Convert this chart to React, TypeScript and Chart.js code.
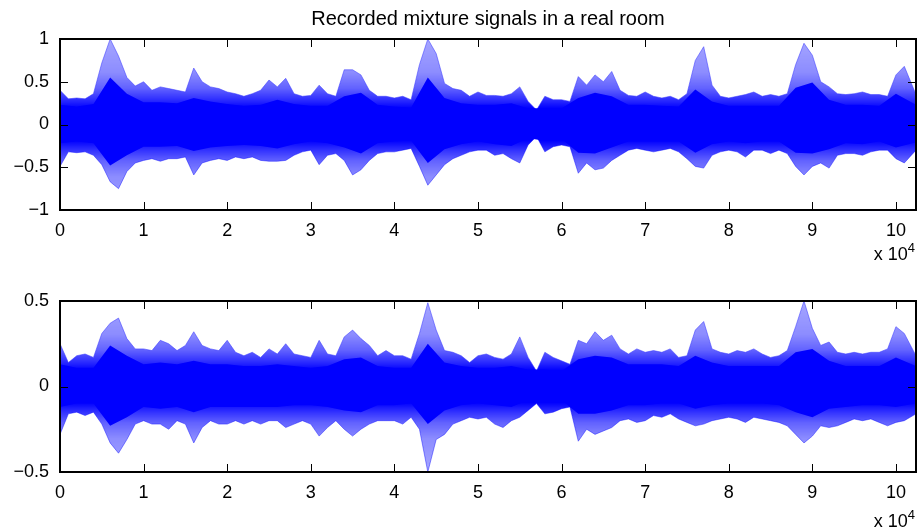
import { useEffect, useRef } from "react";
import { Chart, registerables } from "chart.js";

Chart.register(...registerables);

const FONT = '"Liberation Sans", Arial, Helvetica, sans-serif';

// sample positions (x 10^4 samples)
const X_FINE = [
  0, 0.1, 0.2, 0.3, 0.4, 0.5, 0.6, 0.7, 0.8, 0.9,
  1, 1.1, 1.2, 1.3, 1.4, 1.5, 1.6, 1.7, 1.8, 1.9,
  2, 2.1, 2.2, 2.3, 2.4, 2.5, 2.6, 2.7, 2.8, 2.9,
  3, 3.1, 3.2, 3.3, 3.4, 3.5, 3.6, 3.7, 3.8, 3.9,
  4, 4.1, 4.2, 4.3, 4.4, 4.5, 4.6, 4.7, 4.8, 4.9,
  5, 5.1, 5.2, 5.3, 5.4, 5.5, 5.6, 5.7, 5.8, 5.9,
  6, 6.1, 6.2, 6.3, 6.4, 6.5, 6.6, 6.7, 6.8, 6.9,
  7, 7.1, 7.2, 7.3, 7.4, 7.5, 7.6, 7.7, 7.8, 7.9,
  8, 8.1, 8.2, 8.3, 8.4, 8.5, 8.6, 8.7, 8.8, 8.9,
  9, 9.1, 9.2, 9.3, 9.4, 9.5, 9.6, 9.7, 9.8, 9.9,
  10, 10.1, 10.24,
];
const X_COARSE = [
  0, 0.2, 0.4, 0.6, 0.8, 1, 1.2, 1.4, 1.6, 1.8,
  2, 2.2, 2.4, 2.6, 2.8, 3, 3.2, 3.4, 3.6, 3.8,
  4, 4.2, 4.4, 4.6, 4.8, 5, 5.2, 5.4, 5.6, 5.8,
  6, 6.2, 6.4, 6.6, 6.8, 7, 7.2, 7.4, 7.6, 7.8,
  8, 8.2, 8.4, 8.6, 8.8, 9, 9.2, 9.4, 9.6, 9.8,
  10, 10.24,
];

// Mixture 1: peak envelope (max / min per bin)
const TOP_MAX = [
  0.40, 0.30, 0.31, 0.30, 0.36, 0.72, 1.00, 0.80, 0.55, 0.45,
  0.50, 0.40, 0.44, 0.42, 0.40, 0.38, 0.66, 0.50, 0.44, 0.42,
  0.38, 0.36, 0.33, 0.36, 0.40, 0.52, 0.44, 0.54, 0.36, 0.33,
  0.34, 0.46, 0.36, 0.33, 0.64, 0.64, 0.58, 0.40, 0.33, 0.33,
  0.31, 0.33, 0.29, 0.70, 1.00, 0.83, 0.48, 0.42, 0.40, 0.33,
  0.38, 0.34, 0.34, 0.33, 0.36, 0.44, 0.27, 0.17, 0.33, 0.29,
  0.29, 0.27, 0.56, 0.46, 0.58, 0.50, 0.62, 0.40, 0.34, 0.33,
  0.38, 0.33, 0.31, 0.33, 0.29, 0.36, 0.75, 0.91, 0.46, 0.33,
  0.31, 0.33, 0.35, 0.38, 0.33, 0.35, 0.33, 0.36, 0.70, 0.95,
  0.81, 0.50, 0.44, 0.36, 0.35, 0.36, 0.38, 0.35, 0.35, 0.33,
  0.58, 0.68, 0.35,
];
const TOP_MIN = [
  -0.49, -0.32, -0.33, -0.32, -0.36, -0.47, -0.67, -0.75, -0.55, -0.45,
  -0.42, -0.40, -0.43, -0.40, -0.40, -0.38, -0.59, -0.45, -0.42, -0.40,
  -0.42, -0.38, -0.40, -0.38, -0.42, -0.43, -0.43, -0.42, -0.36, -0.32,
  -0.30, -0.47, -0.36, -0.34, -0.42, -0.59, -0.53, -0.42, -0.34, -0.32,
  -0.32, -0.30, -0.28, -0.49, -0.71, -0.59, -0.47, -0.40, -0.36, -0.32,
  -0.30, -0.30, -0.36, -0.34, -0.40, -0.45, -0.24, -0.14, -0.32, -0.26,
  -0.24, -0.26, -0.57, -0.45, -0.53, -0.51, -0.42, -0.36, -0.30, -0.28,
  -0.30, -0.32, -0.30, -0.28, -0.32, -0.40, -0.49, -0.51, -0.36, -0.32,
  -0.30, -0.32, -0.38, -0.30, -0.30, -0.34, -0.30, -0.34, -0.49, -0.59,
  -0.49, -0.45, -0.51, -0.36, -0.34, -0.34, -0.36, -0.32, -0.30, -0.30,
  -0.40, -0.45, -0.30,
];
// Mixture 1: dense core envelope
const TOP_CORE_MAX = [
  0.23, 0.21, 0.24, 0.55, 0.36, 0.26, 0.26, 0.25, 0.31, 0.27,
  0.24, 0.22, 0.23, 0.29, 0.24, 0.22, 0.22, 0.33, 0.37, 0.23,
  0.21, 0.20, 0.55, 0.31, 0.25, 0.23, 0.23, 0.25, 0.19, 0.19,
  0.19, 0.31, 0.37, 0.33, 0.23, 0.23, 0.22, 0.21, 0.41, 0.27,
  0.22, 0.22, 0.22, 0.22, 0.43, 0.49, 0.29, 0.23, 0.23, 0.22,
  0.36, 0.23,
];
const TOP_CORE_MIN = [
  -0.22, -0.20, -0.22, -0.48, -0.36, -0.26, -0.26, -0.25, -0.31, -0.27,
  -0.25, -0.24, -0.25, -0.28, -0.23, -0.20, -0.22, -0.27, -0.34, -0.22,
  -0.20, -0.19, -0.45, -0.29, -0.23, -0.20, -0.23, -0.25, -0.16, -0.19,
  -0.17, -0.33, -0.34, -0.27, -0.20, -0.20, -0.20, -0.20, -0.33, -0.23,
  -0.20, -0.22, -0.20, -0.20, -0.33, -0.34, -0.29, -0.22, -0.23, -0.20,
  -0.27, -0.21,
];

// Mixture 2: peak envelope
const BOT_MAX = [
  0.25, 0.14, 0.18, 0.19, 0.17, 0.31, 0.37, 0.40, 0.28, 0.22,
  0.22, 0.21, 0.27, 0.25, 0.21, 0.24, 0.32, 0.24, 0.22, 0.21,
  0.27, 0.20, 0.18, 0.20, 0.17, 0.22, 0.19, 0.25, 0.19, 0.18,
  0.17, 0.27, 0.19, 0.18, 0.29, 0.33, 0.28, 0.24, 0.18, 0.21,
  0.18, 0.18, 0.16, 0.31, 0.49, 0.33, 0.21, 0.20, 0.18, 0.14,
  0.18, 0.19, 0.17, 0.16, 0.19, 0.29, 0.17, 0.09, 0.20, 0.17,
  0.15, 0.13, 0.27, 0.25, 0.32, 0.27, 0.30, 0.22, 0.19, 0.22,
  0.20, 0.21, 0.20, 0.22, 0.17, 0.18, 0.33, 0.38, 0.22, 0.20,
  0.19, 0.21, 0.20, 0.22, 0.19, 0.17, 0.18, 0.21, 0.35, 0.50,
  0.34, 0.24, 0.26, 0.20, 0.19, 0.20, 0.19, 0.20, 0.20, 0.22,
  0.35, 0.31, 0.18,
];
const BOT_MIN = [
  -0.28, -0.16, -0.15, -0.17, -0.15, -0.22, -0.33, -0.39, -0.31, -0.22,
  -0.20, -0.22, -0.22, -0.25, -0.20, -0.22, -0.33, -0.24, -0.20, -0.22,
  -0.22, -0.20, -0.22, -0.20, -0.22, -0.20, -0.20, -0.24, -0.22, -0.20,
  -0.22, -0.29, -0.24, -0.20, -0.25, -0.29, -0.25, -0.22, -0.20, -0.20,
  -0.20, -0.22, -0.18, -0.25, -0.50, -0.31, -0.28, -0.22, -0.20, -0.18,
  -0.19, -0.18, -0.22, -0.24, -0.20, -0.18, -0.14, -0.10, -0.16, -0.15,
  -0.13, -0.12, -0.32, -0.25, -0.28, -0.26, -0.24, -0.20, -0.19, -0.21,
  -0.20, -0.17, -0.18, -0.16, -0.19, -0.21, -0.23, -0.22, -0.20, -0.19,
  -0.18, -0.19, -0.21, -0.18, -0.19, -0.20, -0.21, -0.23, -0.28, -0.33,
  -0.29, -0.23, -0.24, -0.23, -0.21, -0.19, -0.20, -0.19, -0.21, -0.23,
  -0.21, -0.20, -0.16,
];
// Mixture 2: dense core envelope
const BOT_CORE_MAX = [
  0.13, 0.11, 0.11, 0.24, 0.18, 0.13, 0.14, 0.13, 0.15, 0.13,
  0.13, 0.12, 0.12, 0.13, 0.12, 0.11, 0.12, 0.16, 0.17, 0.12,
  0.11, 0.11, 0.25, 0.14, 0.12, 0.11, 0.11, 0.12, 0.10, 0.10,
  0.09, 0.16, 0.18, 0.17, 0.13, 0.13, 0.13, 0.12, 0.18, 0.14,
  0.12, 0.12, 0.12, 0.12, 0.20, 0.22, 0.15, 0.12, 0.12, 0.12,
  0.17, 0.12,
];
const BOT_CORE_MIN = [
  -0.12, -0.10, -0.10, -0.23, -0.18, -0.12, -0.13, -0.12, -0.15, -0.12,
  -0.12, -0.12, -0.12, -0.12, -0.11, -0.11, -0.12, -0.14, -0.15, -0.11,
  -0.11, -0.10, -0.22, -0.14, -0.11, -0.10, -0.11, -0.12, -0.08, -0.09,
  -0.08, -0.16, -0.16, -0.14, -0.11, -0.11, -0.10, -0.10, -0.13, -0.11,
  -0.10, -0.10, -0.10, -0.11, -0.15, -0.18, -0.13, -0.12, -0.11, -0.11,
  -0.12, -0.10,
];

const X_TICKS_STEP = 1;
const TITLE = "Recorded mixture signals in a real room";

const W = 919;
const H = 528;

function pts(xs: number[], ys: number[]) {
  return xs.map((x, i) => ({ x, y: ys[i] }));
}

function fmtY(v: number | string) {
  const n = Number(v);
  if (n < 0) return "\u2212" + String(Math.abs(n));
  return String(n);
}

// vertical fade of the sparse "hair" region, by pixel distance from the zero line
const FADE_PX = [0, 16, 26, 36, 52, 90];
const FADE_ALPHA = [1, 1, 0.8, 0.62, 0.45, 0.35];

function hairFill(context: any) {
  const chart = context.chart;
  const a = chart.chartArea;
  if (!a) return "rgba(0,0,255,0.5)";
  const y0 = chart.scales.y.getPixelForValue(0);
  const g = chart.ctx.createLinearGradient(0, a.top, 0, a.bottom);
  const h = a.bottom - a.top;
  const stops: [number, number][] = [];
  for (let i = 0; i < FADE_PX.length; i++) {
    stops.push([(y0 - FADE_PX[i] - a.top) / h, FADE_ALPHA[i]]);
    stops.push([(y0 + FADE_PX[i] - a.top) / h, FADE_ALPHA[i]]);
  }
  stops
    .map(([o, al]) => [Math.min(1, Math.max(0, o)), al] as [number, number])
    .sort((p, q) => p[0] - q[0])
    .forEach(([o, al]) => g.addColorStop(o, `rgba(0,0,255,${al})`));
  return g;
}

function makeChart(
  canvas: HTMLCanvasElement,
  opts: {
    top: number;
    bottom: number;
    ymin: number;
    ymax: number;
    ystep: number;
    peakMax: number[];
    peakMin: number[];
    coreMax: number[];
    coreMin: number[];
    title?: string;
    expBaseline: number;
  }
) {
  const decor = {
    id: "decor",
    afterDatasetsDraw(chart: any) {
      const { ctx, chartArea: a, scales } = chart;
      const xs = scales.x;
      const ys = scales.y;
      ctx.save();
      ctx.strokeStyle = "#000";
      ctx.lineWidth = 1;
      ctx.beginPath();
      const TL = 8;
      for (const t of xs.ticks) {
        const px = Math.round(xs.getPixelForValue(t.value)) + 0.5;
        ctx.moveTo(px, a.bottom);
        ctx.lineTo(px, a.bottom - TL);
        ctx.moveTo(px, a.top);
        ctx.lineTo(px, a.top + TL);
      }
      for (const t of ys.ticks) {
        const py = Math.round(ys.getPixelForValue(t.value)) + 0.5;
        ctx.moveTo(a.left, py);
        ctx.lineTo(a.left + TL, py);
        ctx.moveTo(a.right, py);
        ctx.lineTo(a.right - TL, py);
      }
      ctx.stroke();
      ctx.lineWidth = 2;
      ctx.strokeRect(a.left, a.top, a.right - a.left, a.bottom - a.top);

      ctx.fillStyle = "#000";
      if (opts.title) {
        ctx.font = `20px ${FONT}`;
        ctx.textAlign = "center";
        ctx.textBaseline = "alphabetic";
        ctx.fillText(opts.title, (a.left + a.right) / 2, 25);
      }
      // x 10^4 exponent label
      ctx.textBaseline = "alphabetic";
      ctx.textAlign = "right";
      ctx.font = `13px ${FONT}`;
      const w4 = ctx.measureText("4").width;
      ctx.fillText("4", 915, opts.expBaseline - 8);
      ctx.font = `18px ${FONT}`;
      ctx.fillText("x 10", 915 - w4, opts.expBaseline);
      ctx.restore();
    },
  };

  return new Chart(canvas, {
    type: "line",
    data: {
      datasets: [
        {
          data: pts(X_COARSE, opts.coreMax),
          borderWidth: 0,
          borderColor: "rgba(0,0,255,0)",
          backgroundColor: "#0000ff",
          fill: "+1",
          pointRadius: 0,
          tension: 0,
          order: 0,
        },
        {
          data: pts(X_COARSE, opts.coreMin),
          borderWidth: 0,
          borderColor: "rgba(0,0,255,0)",
          fill: false,
          pointRadius: 0,
          tension: 0,
          order: 1,
        },
        {
          data: pts(X_FINE, opts.peakMax),
          borderWidth: 1,
          borderColor: "rgba(60,60,255,0.55)",
          backgroundColor: hairFill,
          fill: "+1",
          pointRadius: 0,
          tension: 0,
          order: 2,
        },
        {
          data: pts(X_FINE, opts.peakMin),
          borderWidth: 1,
          borderColor: "rgba(60,60,255,0.55)",
          fill: false,
          pointRadius: 0,
          tension: 0,
          order: 3,
        },
      ],
    },
    options: {
      responsive: false,
      animation: false,
      devicePixelRatio: 1,
      events: [],
      layout: { padding: { top: opts.top, right: 3, left: 0, bottom: 0 } },
      plugins: {
        legend: { display: false },
        tooltip: { enabled: false },
        title: { display: false },
      },
      scales: {
        x: {
          type: "linear",
          min: 0,
          max: 10.24,
          grid: { display: false, drawTicks: false },
          border: { display: false },
          ticks: {
            stepSize: X_TICKS_STEP,
            includeBounds: false,
            autoSkip: false,
            maxRotation: 0,
            padding: 10,
            color: "#000",
            font: { family: FONT, size: 18 },
            callback: (v: any) => String(Number(v)),
          },
          afterFit: (s: any) => {
            s.height = H - opts.bottom;
          },
        },
        y: {
          type: "linear",
          min: opts.ymin,
          max: opts.ymax,
          grid: { display: false, drawTicks: false },
          border: { display: false },
          ticks: {
            stepSize: opts.ystep,
            autoSkip: false,
            padding: 11,
            color: "#000",
            font: { family: FONT, size: 18 },
            callback: (v: any) => fmtY(v),
          },
          afterFit: (s: any) => {
            s.width = 60;
          },
        },
      },
    },
    plugins: [decor],
  } as any);
}

export default function App() {
  const topRef = useRef<HTMLCanvasElement>(null);
  const botRef = useRef<HTMLCanvasElement>(null);

  useEffect(() => {
    const c1 = makeChart(topRef.current!, {
      top: 39,
      bottom: 210,
      ymin: -1,
      ymax: 1,
      ystep: 0.5,
      peakMax: TOP_MAX,
      peakMin: TOP_MIN,
      coreMax: TOP_CORE_MAX,
      coreMin: TOP_CORE_MIN,
      title: TITLE,
      expBaseline: 260,
    });
    const c2 = makeChart(botRef.current!, {
      top: 301,
      bottom: 472,
      ymin: -0.5,
      ymax: 0.5,
      ystep: 0.5,
      peakMax: BOT_MAX,
      peakMin: BOT_MIN,
      coreMax: BOT_CORE_MAX,
      coreMin: BOT_CORE_MIN,
      expBaseline: 527,
    });
    return () => {
      c1.destroy();
      c2.destroy();
    };
  }, []);

  const cs: React.CSSProperties = { position: "absolute", left: 0, top: 0 };
  return (
    <div style={{ position: "absolute", left: 0, top: 0, width: W, height: H, background: "#fff" }}>
      <canvas ref={topRef} width={W} height={H} style={cs} />
      <canvas ref={botRef} width={W} height={H} style={cs} />
    </div>
  );
}
